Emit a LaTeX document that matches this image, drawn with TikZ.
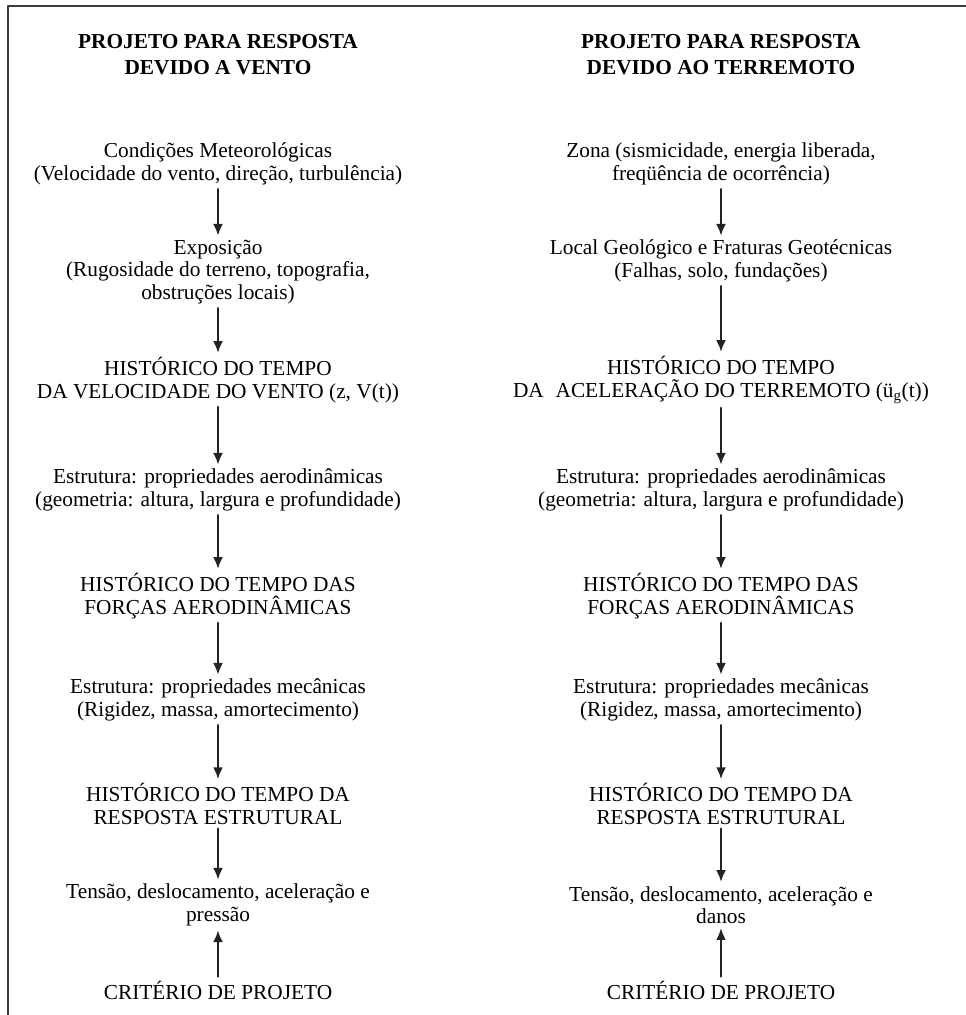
\documentclass[tikz,border=0pt]{standalone}
\usepackage{fontspec}
\setmainfont{Liberation Serif}
\usepackage{tikz}
\usetikzlibrary{arrows.meta, positioning}
\definecolor{frameGray}{RGB}{60, 60, 60}
\definecolor{arrowGray}{RGB}{35, 35, 35}
\tikzset{every node/.style={font=\fontsize{16}{16.8}\selectfont, align=center, inner sep=3pt}, every path/.style={line cap=round, line join=round}, >={Latex[length=9pt, width=7.5pt]}}
\tikzset{flowtitle/.style={font=\fontsize{16}{19.5}\selectfont\bfseries}, flowarrow/.style={->, arrowGray, line width=1.9pt}}

\begin{document}
\begin{tikzpicture}[x=0.75pt, y=-0.75pt]
    \useasboundingbox (0,0) rectangle (966,1015);
    \draw [frameGray, line width=1.8pt] (8,1015) -- (8,6) -- (966,6);

    % vento
    \node [flowtitle] (wTitle) at (218,55) {PROJETO PARA RESPOSTA\\DEVIDO A VENTO};
    \node (wMeteo) at (218,164) {Condições Meteorológicas\\(Velocidade do vento, direção, turbulência)};
    \node (wExpo) at (218,272) {Exposição\\(Rugosidade do terreno, topografia,\\obstruções locais)};
    \node (wVel) at (218,380) {HISTÓRICO DO TEMPO\\DA VELOCIDADE DO VENTO (z, V(t))};
    \node (wAero) at (218,490) {Estrutura: propriedades aerodinâmicas\\(geometria: altura, largura e profundidade)};
    \node (wForca) at (218,596) {HISTÓRICO DO TEMPO DAS\\FORÇAS AERODINÂMICAS};
    \node (wMec) at (218,700) {Estrutura: propriedades mecânicas\\(Rigidez, massa, amortecimento)};
    \node (wResp) at (218,804) {HISTÓRICO DO TEMPO DA\\RESPOSTA ESTRUTURAL};
    \node (wTens) at (218,905) {Tensão, deslocamento, aceleração e\\pressão};
    \node (wCrit) at (218,990) {CRITÉRIO DE PROJETO};

    % terremoto
    \node [flowtitle] (eTitle) at (721,55) {PROJETO PARA RESPOSTA\\DEVIDO AO TERREMOTO};
    \node (eZona) at (721,164) {Zona (sismicidade, energia liberada,\\freqüência de ocorrência)};
    \node (eLocal) at (721,261) {Local Geológico e Fraturas Geotécnicas\\(Falhas, solo, fundações)};
    \node (eAcel) at (721,380) {HISTÓRICO DO TEMPO\\DA\hspace{0.3em} ACELERAÇÃO DO TERREMOTO (ü\textsubscript{g}(t))};
    \node (eAero) at (721,490) {Estrutura: propriedades aerodinâmicas\\(geometria: altura, largura e profundidade)};
    \node (eForca) at (721,596) {HISTÓRICO DO TEMPO DAS\\FORÇAS AERODINÂMICAS};
    \node (eMec) at (721,700) {Estrutura: propriedades mecânicas\\(Rigidez, massa, amortecimento)};
    \node (eResp) at (721,804) {HISTÓRICO DO TEMPO DA\\RESPOSTA ESTRUTURAL};
    \node (eTens) at (721,905) {Tensão, deslocamento, aceleração e\\danos};
    \node (eCrit) at (721,990) {CRITÉRIO DE PROJETO};

    \foreach \side in {w, e} {
        \draw [flowarrow] (\side Aero) -- (\side Forca);
        \draw [flowarrow] (\side Forca) -- (\side Mec);
        \draw [flowarrow] (\side Mec) -- (\side Resp);
        \draw [flowarrow] (\side Resp) -- (\side Tens);
        \draw [flowarrow] (\side Crit) -- (\side Tens);
    }
    \draw [flowarrow] (wMeteo) -- (wExpo);
    \draw [flowarrow] (wExpo) -- (wVel);
    \draw [flowarrow] (wVel) -- (wAero);
    \draw [flowarrow] (eZona) -- (eLocal);
    \draw [flowarrow] (eLocal) -- (eAcel);
    \draw [flowarrow] (eAcel) -- (eAero);
\end{tikzpicture}
\end{document}
